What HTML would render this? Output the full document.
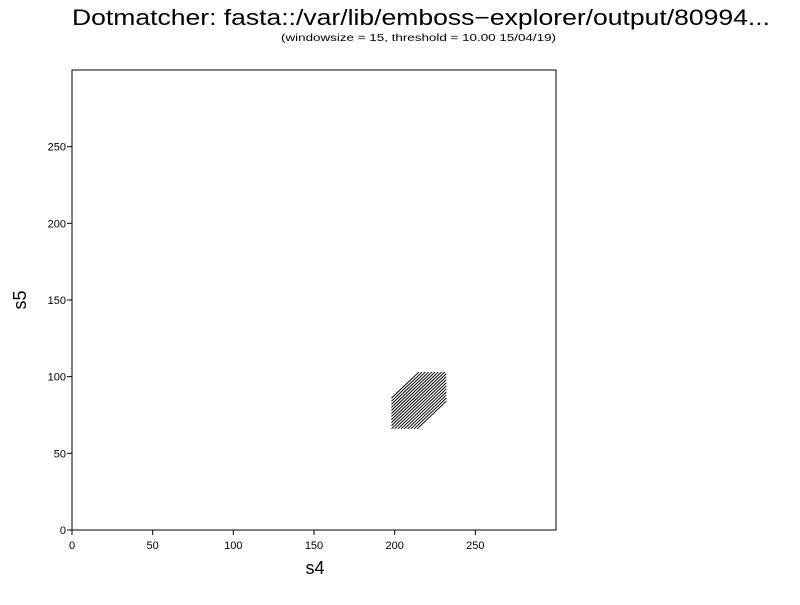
<!DOCTYPE html>
<html><head><meta charset="utf-8"><style>
body{margin:0;background:#fff;}
svg text{font-family:"Liberation Sans",sans-serif;fill:#000;}
</style></head><body>
<svg id="chart" width="800" height="600" xmlns="http://www.w3.org/2000/svg">
<text x="72" y="25" font-size="22" textLength="698" lengthAdjust="spacingAndGlyphs">Dotmatcher: fasta::/var/lib/emboss−explorer/output/80994...</text>
<text x="281" y="41" font-size="10" textLength="275" lengthAdjust="spacingAndGlyphs">(windowsize = 15, threshold = 10.00  15/04/19)</text>
<rect x="72" y="70" width="484" height="460" fill="none" stroke="#000" stroke-width="1"/>
<g id="xticks"></g>
<g id="yticks"></g>
<text x="315" y="574" font-size="18" text-anchor="middle">s4</text>
<text x="26" y="300" font-size="18" text-anchor="middle" transform="rotate(-90 26 300)">s5</text>
<g id="marks"></g>
</svg>
<script>
const xTicks=[0,50,100,150,200,250];
const yTicks=[0,50,100,150,200,250];
const segStartX=[214,212,210,208,206,204,202,200,198,198,198,198,198,198,198,198,198,198,198];
const segStartY=[66,66,66,66,66,66,66,66,66,68,70,72,74,76,78,80,82,84,86];
const segLength=[18,20,22,24,26,28,30,32,34,34,33,31,29,27,25,23,21,19,17];
const NS="http://www.w3.org/2000/svg";
const X=v=>72+v*484/300, Y=v=>530-v*460/300;
function mk(t,a,p){const e=document.createElementNS(NS,t);for(const k in a)e.setAttribute(k,a[k]);p.appendChild(e);return e;}
const gx=document.getElementById('xticks'),gy=document.getElementById('yticks'),gm=document.getElementById('marks');
xTicks.forEach(v=>{
 const l=mk('line',{x1:X(v),x2:X(v),y1:530,y2:535,stroke:'#000'},gx);
 
 
 const t=mk('text',{x:X(v),y:549,'font-size':11,'text-anchor':'middle'},gx);t.textContent=v;
 
 
});
yTicks.forEach(v=>{
 const l=mk('line',{x1:67,x2:72,y1:Y(v),y2:Y(v),stroke:'#000'},gy);
 
 
 const t=mk('text',{x:66,y:Y(v)+4,'font-size':11,'text-anchor':'end'},gy);t.textContent=v;
 
 
});
segStartX.forEach((sx,i)=>{
 const sy=segStartY[i],L=segLength[i];
 const l=mk('line',{x1:X(sx),y1:Y(sy),x2:X(sx+L),y2:Y(sy+L),stroke:'#000','stroke-width':1},gm);
 
 
});
</script>
</body></html>
